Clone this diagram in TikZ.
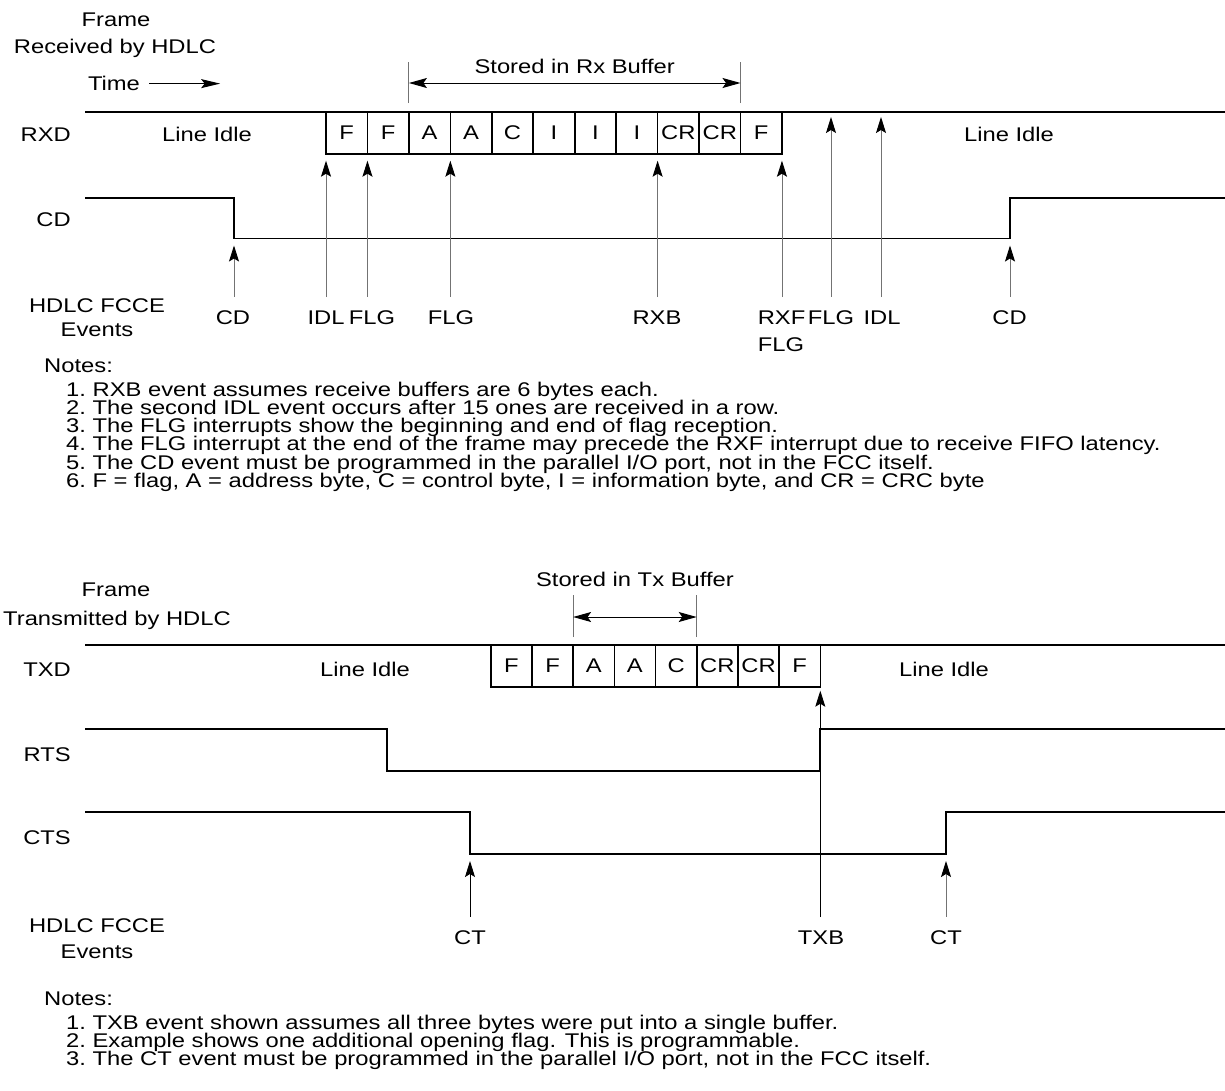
\documentclass[tikz,border=0pt]{standalone}
\usepackage{fontspec}
\setmainfont[FakeStretch=1.2]{Liberation Sans}
\usetikzlibrary{arrows.meta}

\tikzset{
  lbl/.style={font=\fontsize{19.8}{22}\selectfont, inner sep=0pt, anchor=base},
  signame/.style={lbl, anchor=base east},
  notetext/.style={lbl, anchor=base west},
  cell/.style={draw, line width=1.6pt, minimum height=41.7pt, inner sep=0pt, outer sep=0pt,
    font=\fontsize{19.8}{22}\selectfont},
  sig/.style={line width=1.7pt},
  evt/.style={draw=black!55, line width=0.9pt,
    -{Stealth[color=black, fill=black, length=16pt, width=10pt, inset=3pt]},
    shorten <=13pt, shorten >=7pt},
  tick/.style={draw=black!55, line width=0.9pt},
  buf/.style={line width=1pt,
    {Stealth[length=18pt, width=10pt, inset=3.5pt]}-{Stealth[length=18pt, width=10pt, inset=3.5pt]}},
}

\begin{document}
\begin{tikzpicture}[x=1pt, y=-1pt]
\useasboundingbox (0,0) rectangle (1225,1090);

% ---- frame received by HDLC
\node[lbl] (rxframe) at (116,26.7) {Frame};
\node[lbl] (rxby) at (115,53.3) {Received by HDLC};
\node[lbl] (time) at (114,90.7) {Time};
\draw[line width=1pt, -{Stealth[length=19pt, width=9pt, inset=3.5pt]}]
  ([xshift=9pt]time.east) -- ++(71,0);

\node[signame] (rxd) at (71,141.7) {RXD};
\node[signame] (cd) at (71,226.7) {CD};
\node[lbl] (rxev1) at (97,312.7) {HDLC FCCE};
\node[lbl] (rxev2) at (97,336.7) {Events};

\draw[sig] (85,112) -- (1225,112);
\foreach \t [count=\i] in {F,F,A,A,C,I,I,I,CR,CR,F}
  \node[cell, minimum width=41.45pt] (rx\i) at ({326+41.45*(\i-0.5)},132.85) {\t};
\node[lbl] (rxidle1) at (207,141.7) {Line Idle};
\node[lbl] (rxidle2) at (1009,141.7) {Line Idle};

\draw[sig] (85,198) -- (234,198) -- (234,238.5) -- (1010,238.5) -- (1010,198) -- (1225,198);
\coordinate (cdlo1) at (234,238.5);
\coordinate (cdlo2) at (1010,238.5);
\coordinate (rxflag) at (831,112);
\coordinate (rxidl) at (881,112);

% stored in rx buffer
\draw[tick] (rx3.north west) ++(0,-9) -- ++(0,-41);
\draw[tick] (rx10.north east) ++(0,-9) -- ++(0,-41);
\draw[buf] ([yshift=29pt]rx3.north west) -- ([yshift=29pt]rx10.north east)
  node[lbl, midway, above=9pt] {Stored in Rx Buffer};

% events
\node[lbl] (ecd1) at (233,324) {CD};
\node[lbl] (eidl1) at (326,324) {IDL};
\node[lbl] (eflg1) at (372,324) {FLG};
\node[lbl] (eflg2) at (451,324) {FLG};
\node[lbl] (erxb) at (657,324) {RXB};
\node[lbl] (erxf) at (781.5,324) {RXF};
\node[lbl] (erxf2) at (781,351) {FLG};
\node[lbl] (eflg3) at (831,324) {FLG};
\node[lbl] (eidl2) at (882,324) {IDL};
\node[lbl] (ecd2) at (1009.5,324) {CD};
\foreach \lab/\tgt in {ecd1/cdlo1, eidl1/rx1.south west, eflg1/rx1.south east,
    eflg2/rx3.south east, erxb/rx8.south east, erxf/rx11.south east, ecd2/cdlo2}
  \draw[evt] (\tgt |- \lab.north) -- (\tgt);
\foreach \lab/\tgt in {eflg3/rxflag, eidl2/rxidl}
  \draw[evt, shorten >=5pt] (\tgt |- \lab.north) -- (\tgt);

% notes
\node[notetext] (rxnotes) at (44,372) {Notes:};
\foreach \t [count=\i] in {
    {RXB event assumes receive buffers are 6 bytes each.},
    {The second IDL event occurs after 15 ones are received in a row.},
    {The FLG interrupts show the beginning and end of flag reception.},
    {The FLG interrupt at the end of the frame may precede the RXF interrupt due to receive FIFO latency.},
    {The CD event must be programmed in the parallel I/O port, not in the FCC itself.},
    {F = flag, A = address byte, C = control byte, I = information byte, and CR = CRC byte}}
  \node[notetext] (rxn\i) at (66,{378+18.2*\i}) {\i.\ \t};

% ---- frame transmitted by HDLC
\node[lbl] (txframe) at (116,596.7) {Frame};
\node[lbl] (txby) at (117,625) {Transmitted by HDLC};

\node[signame] (txd) at (71,676) {TXD};
\node[signame] (rts) at (71,761.7) {RTS};
\node[signame] (cts) at (71,844) {CTS};
\node[lbl] (txev1) at (97,932) {HDLC FCCE};
\node[lbl] (txev2) at (97,958) {Events};

\draw[sig] (85,645) -- (1225,645);
\foreach \t [count=\i] in {F,F,A,A,C,CR,CR,F}
  \node[cell, minimum width=41.2pt] (tx\i) at ({490.7+41.2*(\i-0.5)},665.85) {\t};
\node[lbl] (txidle1) at (365,676) {Line Idle};
\node[lbl] (txidle2) at (944,676) {Line Idle};

\draw[sig] (85,729) -- (387,729) -- (387,771) -- (820.3,771) -- (820.3,729) -- (1225,729);
\draw[sig] (85,812) -- (470,812) -- (470,854) -- (946,854) -- (946,812) -- (1225,812);
\coordinate (ctlo1) at (470,854);
\coordinate (ctlo2) at (946,854);

% stored in tx buffer
\draw[tick] (tx3.north west) ++(0,-8) -- ++(0,-42);
\draw[tick] (tx5.north east) ++(0,-8) -- ++(0,-42);
\draw[buf] ([yshift=28pt]tx3.north west) -- ([yshift=28pt]tx5.north east)
  node[lbl, midway, above=30pt] {Stored in Tx Buffer};

% events
\node[lbl] (ect1) at (470,944) {CT};
\node[lbl] (etxb) at (821,944) {TXB};
\node[lbl] (ect2) at (946,944) {CT};
\draw[evt, draw=black] (ctlo1 |- ect1.north) -- (ctlo1);
\draw[evt, draw=black, shorten >=4pt] (tx8.south east |- etxb.north) -- (tx8.south east);
\draw[evt] (ctlo2 |- ect2.north) -- (ctlo2);

% notes
\node[notetext] (txnotes) at (44,1005) {Notes:};
\foreach \t [count=\i] in {
    {TXB event shown assumes all three bytes were put into a single buffer.},
    {Example shows one additional opening flag. This is programmable.},
    {The CT event must be programmed in the parallel I/O port, not in the FCC itself.}}
  \node[notetext] (txn\i) at (66,{1011+18.2*\i}) {\i.\ \t};
\end{tikzpicture}
\end{document}
